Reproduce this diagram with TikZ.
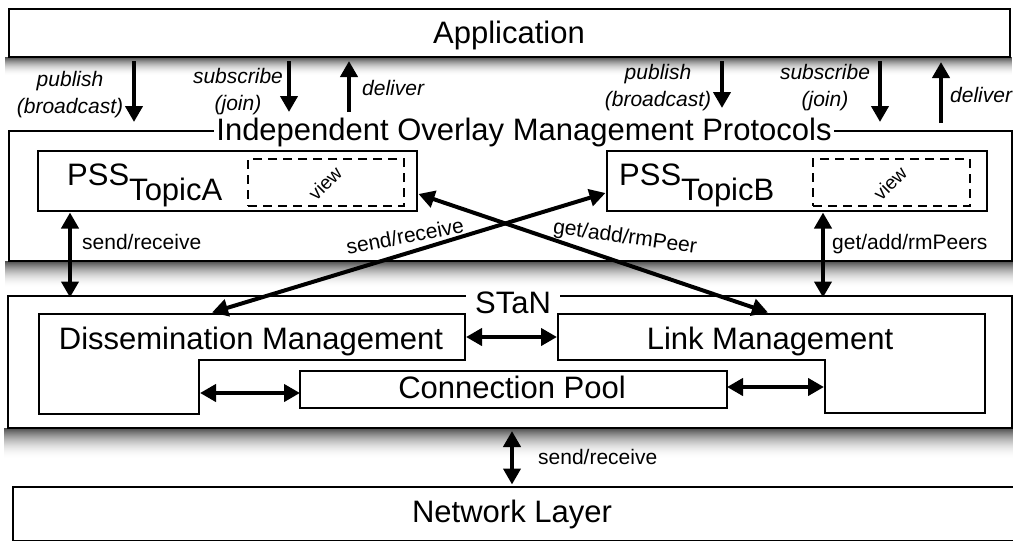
\documentclass[tikz,border=0pt]{standalone}
\usepackage{fontspec}
\setmainfont{Liberation Sans}
\usetikzlibrary{arrows.meta}
% soft drop shadow under a layer: #1 = left x, #2 = right x, #3 = top y, #4 = depth
\newcommand\layershadow[4]{%
  \foreach \i in {0,...,#4}{%
    \pgfmathsetmacro\shadeop{0.7*(1-\i/(#4+1))^2}%
    \fill[black, opacity=\shadeop] (#1,#3+\i) rectangle (#2,#3+\i+1);
  }%
}
\begin{document}
\begin{tikzpicture}[x=1pt,y=-1pt,
  >={Triangle[length=16pt,width=17pt]},
  bigtext/.style={font=\fontsize{31}{36}\selectfont, inner sep=0pt},
  smalltext/.style={font=\fontsize{21}{25}\selectfont, inner sep=0pt},
  calltext/.style={font=\fontsize{21}{27}\selectfont\itshape, align=center, inner sep=0pt},
  viewtext/.style={font=\fontsize{19}{22}\selectfont, inner sep=0pt, rotate=45},
  layerbox/.style={draw, line width=2.5pt, fill=white, inner sep=0pt},
  plainbox/.style={draw, line width=2.2pt, fill=white, inner sep=0pt},
  viewbox/.style={draw, line width=2.5pt, dash pattern=on 9pt off 6pt, inner sep=0pt},
  onearrow/.style={line width=4pt, ->},
  twoarrow/.style={line width=4pt, <->},
]
\useasboundingbox (0,0) rectangle (1013,541);

% ---- layers, each with a soft shadow underneath ----
\layershadow{5}{1012}{57}{18}
\node[layerbox, minimum width=1001pt, minimum height=48pt] (app) at (509.5,33) {};
\node[bigtext, anchor=base] (apptxt) at (509,43) {Application};

\layershadow{5}{1013}{261}{26}
\node[layerbox, minimum width=1003pt, minimum height=130pt] (iomp) at (510.5,196) {};
\node[bigtext, anchor=base, fill=white, inner xsep=2pt] (iomptitle) at (524,140)
  {Independent Overlay Management Protocols};

\layershadow{4}{1013}{428}{30}
\node[layerbox, minimum width=1004pt, minimum height=132pt] (stan) at (510,362) {};
\node[bigtext, anchor=base, fill=white, inner xsep=9pt] (stantitle) at (513,313) {STaN};

\node[plainbox, minimum width=1020pt, minimum height=54pt, anchor=north west] (net) at (12,486) {};
\node[bigtext, anchor=base] (nettxt) at (512,522) {Network Layer};

% ---- peer sampling services ----
\node[plainbox, minimum width=379pt, minimum height=60pt] (pssA) at (227.5,181) {};
\node[viewbox, minimum width=156pt, minimum height=47pt] (viewA) at (326,182.5) {};
\node[bigtext, anchor=base west] (pssAtxt) at (67,185) {PSS\raisebox{-15pt}{TopicA}};
\node[viewtext] (viewAtxt) at (325,183) {view};

\node[plainbox, minimum width=380pt, minimum height=60pt] (pssB) at (797,181) {};
\node[viewbox, minimum width=157pt, minimum height=47pt] (viewB) at (891.5,182.5) {};
\node[bigtext, anchor=base west] (pssBtxt) at (619,185) {PSS\raisebox{-15pt}{TopicB}};
\node[viewtext] (viewBtxt) at (890,183) {view};

% ---- STaN components ----
\draw[line width=2.2pt, fill=white] (39,314) -- (465,314) -- (465,360) -- (199,360)
  -- (199,414) -- (39,414) -- cycle;
\node[bigtext, anchor=base] (dmtxt) at (251,349) {Dissemination Management};

\draw[line width=2.2pt, fill=white] (558,314) -- (985,314) -- (985,413) -- (825,413)
  -- (825,360) -- (558,360) -- cycle;
\node[bigtext, anchor=base] (lmtxt) at (770,349) {Link Management};

\node[plainbox, minimum width=427pt, minimum height=37pt] (cp) at (513.5,389.5) {};
\node[bigtext, anchor=base] (cptxt) at (512,398) {Connection Pool};

% ---- connector end points ----
\coordinate (pubLa) at (134,61);   \coordinate (pubLb) at (134,122);
\coordinate (subLa) at (289,61);   \coordinate (subLb) at (289,112);
\coordinate (delLa) at (349,112);  \coordinate (delLb) at (349,61);
\coordinate (pubRa) at (722,61);   \coordinate (pubRb) at (722,108);
\coordinate (subRa) at (880,61);   \coordinate (subRb) at (880,122);
\coordinate (delRa) at (941,123);  \coordinate (delRb) at (941,62);

\coordinate (srA) at (70,212.5);   \coordinate (srStan) at (70,297.5);
\coordinate (gpB) at (823,212.5);  \coordinate (gpStan) at (823,297.5);

\coordinate (dmTop) at (212,312.5);  \coordinate (pssBin) at (605.5,193);
\coordinate (pssAout) at (418.5,194); \coordinate (lmTop) at (768,312.5);

\coordinate (dmR) at (466,337);    \coordinate (lmL) at (557,337);
\coordinate (dmStep) at (200,393); \coordinate (cpL) at (300,393);
\coordinate (cpR) at (727,387);    \coordinate (lmStep) at (824,387);

\coordinate (stanBot) at (512,431); \coordinate (netTop) at (512,484.5);

% ---- connectors ----
\draw[onearrow] (pubLa) -- (pubLb);
\draw[onearrow] (subLa) -- (subLb);
\draw[onearrow] (delLa) -- (delLb);
\draw[onearrow] (pubRa) -- (pubRb);
\draw[onearrow] (subRa) -- (subRb);
\draw[onearrow] (delRa) -- (delRb);

\draw[twoarrow] (srA) -- (srStan);
\draw[twoarrow] (gpB) -- (gpStan);
\draw[twoarrow] (dmTop) -- (pssBin);
\draw[twoarrow] (pssAout) -- (lmTop);

\draw[twoarrow] (dmR) -- (lmL);
\draw[twoarrow] (dmStep) -- (cpL);
\draw[twoarrow] (cpR) -- (lmStep);
\draw[twoarrow] (stanBot) -- (netTop);

% ---- connector labels ----
\node[calltext] (pubLtxt) at (70,95) {publish\\(broadcast)};
\node[calltext] (subLtxt) at (238,92) {subscribe\\(join)};
\node[calltext, anchor=base west] (delLtxt) at (362,95) {deliver};
\node[calltext] (pubRtxt) at (658,88) {publish\\(broadcast)};
\node[calltext] (subRtxt) at (825,88) {subscribe\\(join)};
\node[calltext, anchor=base west] (delRtxt) at (950,102) {deliver};

\node[smalltext, anchor=base west] (srAtxt) at (82,249) {send/receive};
\node[smalltext, anchor=base west] (gpBtxt) at (832,249) {get/add/rmPeers};
\node[smalltext, rotate=11] (srXtxt) at (405,236) {send/receive};
\node[smalltext, rotate=-8] (gpXtxt) at (625,238) {get/add/rmPeer};
\node[smalltext, anchor=base west] (netsrtxt) at (538,464) {send/receive};
\end{tikzpicture}
\end{document}
